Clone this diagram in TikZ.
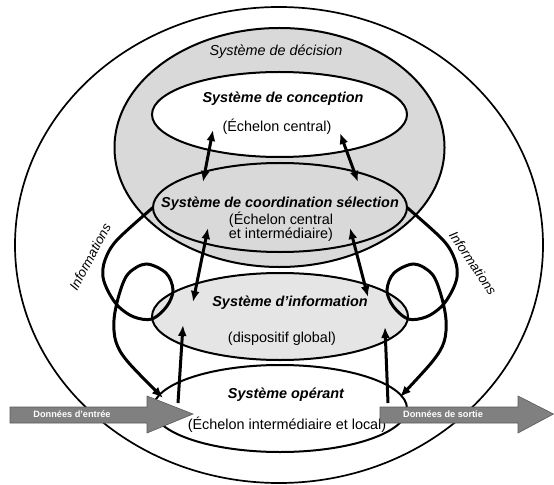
\documentclass[tikz,border=0pt]{standalone}
\usepackage{fontspec}
\setmainfont{Liberation Sans}
\usetikzlibrary{shapes.geometric,arrows.meta}
\definecolor{decgray}{RGB}{217,217,217}
\definecolor{infgray}{RGB}{229,229,229}
\definecolor{blockgray}{RGB}{128,128,128}
\definecolor{blockedge}{RGB}{90,90,90}
\tikzset{
  ell/.style={ellipse, draw, line width=2bp, inner sep=0pt, outer sep=0pt},
  titletext/.style={font=\fontsize{14.4bp}{16bp}\selectfont\bfseries\itshape, inner sep=0pt},
  subtext/.style={font=\fontsize{14.4bp}{14bp}\selectfont, inner sep=0pt, align=center},
  italtext/.style={font=\fontsize{14.4bp}{16bp}\selectfont\itshape, inner sep=0pt},
  infotext/.style={font=\fontsize{13.3bp}{15bp}\selectfont\itshape, inner sep=0pt},
  tipA/.tip={Latex[length=11bp,width=9bp]},
  dblarrow/.style={line width=3bp, tipA-tipA},
  uparrow/.style={line width=3bp, -tipA},
  loopline/.style={line width=3bp, -tipA},
  blockarrow/.style={fill=blockgray, draw=blockedge, line width=0.6bp},
  blocktext/.style={text=white, font=\fontsize{9.2bp}{10bp}\selectfont\bfseries, inner sep=0pt}
}
\begin{document}
\begin{tikzpicture}[x=1bp,y=-1bp]
\useasboundingbox (0,0) rectangle (554,485);
% ellipses
\node[ell, line width=1.7bp, minimum width=528bp, minimum height=476bp] (outer) at (279,245) {};
\node[ell, fill=decgray, minimum width=330bp, minimum height=239bp] (decision) at (279.5,147.5) {};
\node[ell, fill=white, minimum width=255bp, minimum height=85bp] (concep) at (279.5,114.5) {};
\node[ell, fill=decgray, minimum width=254bp, minimum height=89bp] (coord) at (280,207.5) {};
\node[ell, fill=infgray, minimum width=256bp, minimum height=87bp] (info) at (280,316.5) {};
\node[ell, fill=white, minimum width=254bp, minimum height=87bp] (operant) at (280,408.5) {};
% texts
\node[italtext] (tdec) at (276,52) {Système de décision};
\node[titletext] (tconc) at (283,99) {Système de conception};
\node[subtext] (sconc) at (277,127) {(Échelon central)};
\node[titletext] (tcoord) at (280,204) {Système de coordination sélection};
\node[subtext] (scoord) at (281,227) {(Échelon central\\et intermédiaire)};
\node[titletext] (tinfo) at (290,303) {Système d’information};
\node[subtext] (sinfo) at (282,339) {(dispositif global)};
\node[titletext] (toper) at (286,395) {Système opérant};
\node[subtext] (soper) at (287,425) {(Échelon intermédiaire et local)};
\node[infotext, rotate=62] (infl) at (90,257) {Informations};
\node[infotext, rotate=-56] (infr) at (473,263) {Informations};
% arrow end points
\coordinate (a1t) at (213,130); \coordinate (a1b) at (203,182);
\coordinate (a2t) at (340,133); \coordinate (a2b) at (358,182);
\coordinate (a3t) at (208,228); \coordinate (a3b) at (193,302);
\coordinate (a4t) at (350,228); \coordinate (a4b) at (368,297);
\coordinate (a5b) at (178,403); \coordinate (a5t) at (183,325);
\coordinate (a6b) at (388,403); \coordinate (a6t) at (385,327);
\draw[dblarrow] (a1t) -- (a1b);
\draw[dblarrow] (a2t) -- (a2b);
\draw[dblarrow] (a3t) -- (a3b);
\draw[dblarrow] (a4t) -- (a4b);
\draw[uparrow] (a5b) -- (a5t);
\draw[uparrow] (a6b) -- (a6t);
% loops
\coordinate (ltip) at (163,398);
\coordinate (rtip) at (400,397);
\draw[loopline] plot[smooth, tension=0.55] coordinates {(coord.west) (117,240) (105,260) (103,277) (109,293) (119,307) (134,317) (152,319) (167,306) (173,290) (166,273) (146,264) (128,274) (119,295) (114,320) (116,342) (128,362) (ltip)};
\draw[loopline] plot[smooth, tension=0.55] coordinates {(coord.east) (443,240) (455,260) (457,277) (451,293) (441,307) (426,317) (408,319) (393,306) (387,290) (394,273) (414,264) (432,274) (441,295) (446,320) (444,342) (432,362) (rtip)};
% block arrows
\draw[blockarrow] (10,407) -- (147,407) -- (147,396) -- (193,414) -- (147,433) -- (147,423) -- (10,423) -- cycle;
\node[blocktext] (din) at (72,414) {Données d'entrée};
\draw[blockarrow] (380,407) -- (518,407) -- (518,396) -- (553.5,414) -- (518,433) -- (518,423) -- (380,423) -- cycle;
\node[blocktext] (dout) at (443,414) {Données de sortie};
\end{tikzpicture}
\end{document}
